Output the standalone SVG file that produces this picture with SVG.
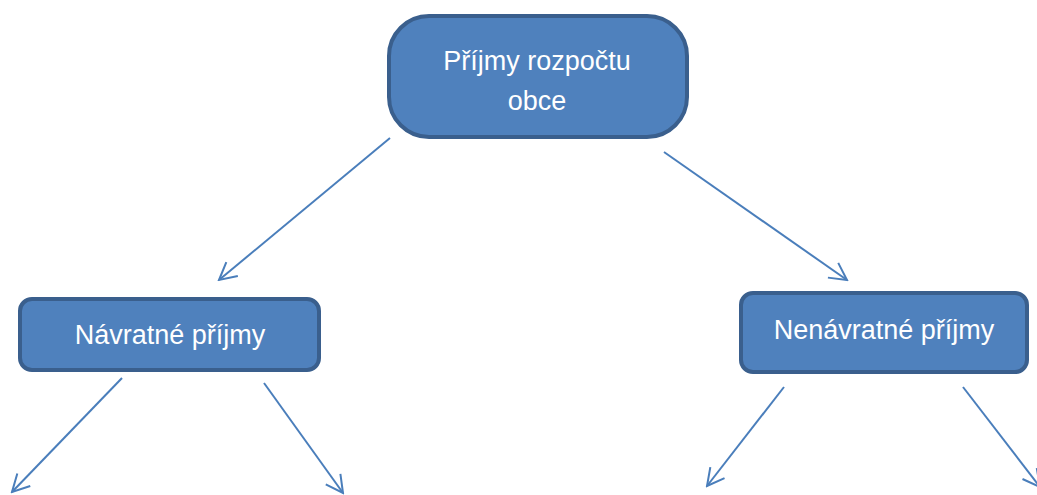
<svg xmlns="http://www.w3.org/2000/svg" width="1037" height="495" viewBox="0 0 1037 495">
<style>
.box{fill:#4f81bd;stroke:#3a5f8d;stroke-width:4}
.lbl{font-family:"Liberation Sans",Arial,sans-serif;font-size:27px;fill:#ffffff;text-anchor:middle}
.con{stroke:#4a7ebb;stroke-width:2;fill:none}
</style>
<defs>
<marker id="arr" markerUnits="userSpaceOnUse" viewBox="-19 -11 21 22" refX="0" refY="0" markerWidth="21" markerHeight="22" orient="auto">
<path d="M-17,-9 L0,0 L-17,9" fill="none" stroke="#4a7ebb" stroke-width="2"/>
</marker>
</defs>
<rect width="1037" height="495" fill="#ffffff"/>
<g id="connectors">
<line class="con" x1="390" y1="138" x2="219" y2="280" marker-end="url(#arr)"/>
<line class="con" x1="664" y1="152" x2="847" y2="280" marker-end="url(#arr)"/>
<line class="con" x1="122" y1="378" x2="12" y2="492" marker-end="url(#arr)"/>
<line class="con" x1="264" y1="383" x2="343" y2="493" marker-end="url(#arr)"/>
<line class="con" x1="784" y1="387" x2="707" y2="486" marker-end="url(#arr)"/>
<line class="con" x1="963" y1="387" x2="1040" y2="487" marker-end="url(#arr)"/>
</g>
<g id="node-root">
<rect class="box" x="389" y="16" width="298" height="121" rx="40" ry="40"/>
<text class="lbl" x="537" y="70">Příjmy rozpočtu</text>
<text class="lbl" x="537" y="110">obce</text>
</g>
<g id="node-navratne">
<rect class="box" x="20" y="299" width="299" height="71" rx="12" ry="12"/>
<text class="lbl" x="170" y="344">Návratné příjmy</text>
</g>
<g id="node-nenavratne">
<rect class="box" x="741" y="293" width="286" height="79" rx="12" ry="12"/>
<text class="lbl" x="884" y="339">Nenávratné příjmy</text>
</g>
</svg>
